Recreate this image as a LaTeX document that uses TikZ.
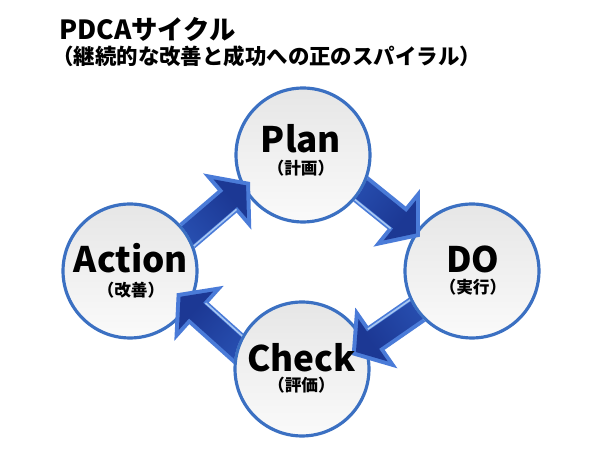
\documentclass[tikz,border=0pt]{standalone}
\usepackage{fontspec}
\setmainfont{Noto Sans CJK JP}
\definecolor{circblue}{HTML}{3B70C2}
\definecolor{circtop}{HTML}{E6E6E6}
\definecolor{circbot}{HTML}{FAFAFA}
\definecolor{arrband}{HTML}{4A7BD8}
\definecolor{arrdark}{HTML}{1C3894}
\definecolor{arrmid}{HTML}{3162C8}
\definecolor{arrhl}{HTML}{A9C8F2}
\tikzset{
  pcirc/.style={circle, minimum size=2.68cm, inner sep=0pt, draw=circblue, line width=1.8pt, top color=circtop, bottom color=circbot},
  mainlbl/.style={anchor=base, inner sep=0pt, font=\fontsize{20}{24}\selectfont\bfseries},
  sublbl/.style={anchor=base, inner sep=0pt, font=\fontsize{9.5}{11}\selectfont\bfseries},
  arrhighlight/.style={draw=arrhl, line width=0.9pt},
}
% #1 tip coordinate, #2 direction angle, #3 tail circle node, #4 shading angle
\newcommand{\pdcaArrow}[4]{%
  \begin{scope}
    \clip (-50,-50) -- (-50,500) -- (650,500) -- (650,-50) -- cycle (#3.center) circle[radius=1.37cm];
    \begin{scope}[shift={(#1)}, rotate=#2]
      \fill[arrband] (0,0) -- (-30,37) -- (-30,14.5) -- (-150,14.5) -- (-150,-14.5) -- (-30,-14.5) -- (-30,-37) -- cycle;
      \shade[top color=arrdark, bottom color=arrmid, shading angle=#4] (-5.15,0) -- (-26,25.7) -- (-26,10.5) -- (-150,10.5) -- (-150,-10.5) -- (-26,-10.5) -- (-26,-25.7) -- cycle;
      \draw[arrhighlight] (-150,-12) -- (-28,-12);
    \end{scope}
  \end{scope}}
\begin{document}
\begin{tikzpicture}[x=0.02cm, y=0.02cm]
  \useasboundingbox (0,0) rectangle (600,450);
  \fill[white] (0,0) rectangle (600,450);
  % title
  \node[anchor=base west, inner sep=0pt, font=\fontsize{15}{17}\selectfont\bfseries] (title) at (59,410) {PDCAサイクル};
  \node[anchor=base west, inner sep=0pt, font=\fontsize{12.2}{14}\selectfont\bfseries] (subtitle) at (52,385) {（継続的な改善と成功への正のスパイラル）};
  % circles
  \node[pcirc] (P) at (303,295) {};
  \node[pcirc] (D) at (472,179) {};
  \node[pcirc] (C) at (302,81) {};
  \node[pcirc] (A) at (130,179) {};
  % arrows
  \coordinate (tAP) at (250,268);
  \coordinate (tPD) at (420,213.3);
  \coordinate (tDC) at (351.7,95);
  \coordinate (tCA) at (176.7,156.7);
  \pdcaArrow{tAP}{40.6}{A}{-49.4}
  \pdcaArrow{tPD}{-38.9}{P}{-128.9}
  \pdcaArrow{tDC}{214.7}{D}{124.7}
  \pdcaArrow{tCA}{138.1}{C}{48.1}
  % labels
  \node[mainlbl] (Pl) at (301,297) {Plan};
  \node[sublbl] (Ps) at (301,275) {（計画）};
  \node[mainlbl] (Dl) at (473,177) {DO};
  \node[sublbl] (Ds) at (473,156) {（実行）};
  \node[mainlbl] (Cl) at (301.5,78) {Check};
  \node[sublbl] (Cs) at (301.5,58) {（評価）};
  \node[mainlbl] (Al) at (131,177) {Action};
  \node[sublbl] (As) at (131,153) {（改善）};
\end{tikzpicture}
\end{document}
